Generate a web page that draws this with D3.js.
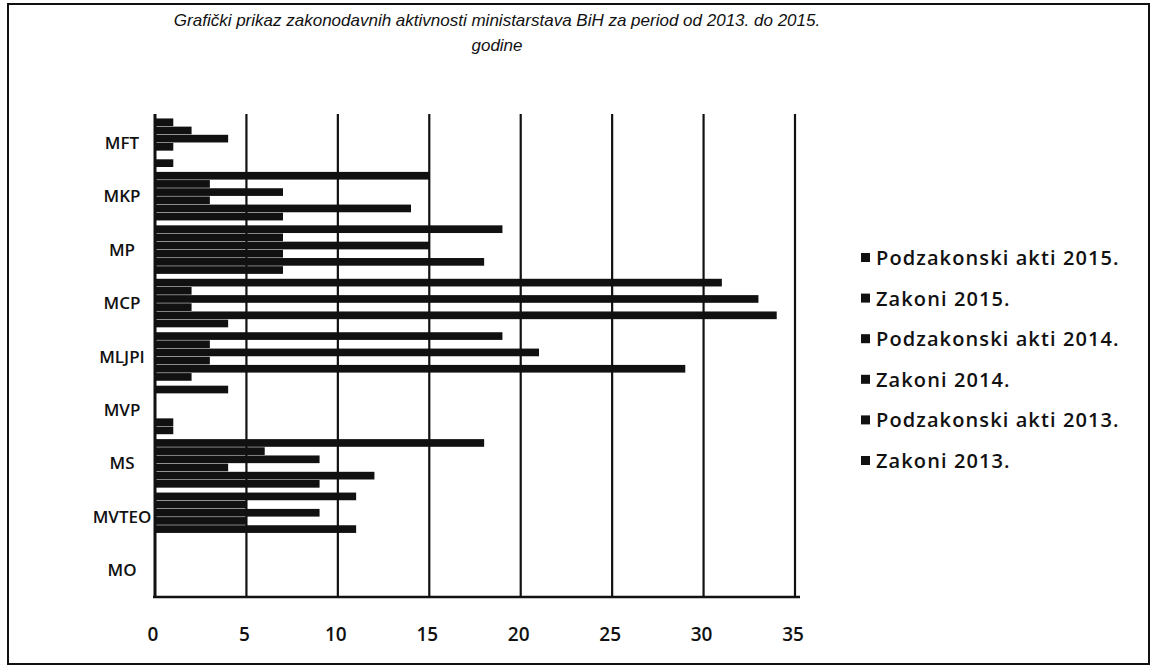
<!DOCTYPE html>
<html>
  <head>
    <title>Zakonodavne aktivnosti ministarstava BiH</title>
    <script src="https://unpkg.com/d3@7/dist/d3.min.js"></script>
    <style>
    body { margin: 0; background: #fff; }
    .title text { font-family: "Liberation Sans", Arial, sans-serif; font-style: italic; font-size: 17px; fill: #111; }
    .cat text, .xaxis text, .legend text { font-family: "Open Sans", sans-serif; font-weight: 600; fill: #111; }
    .grid line { stroke: #111; stroke-width: 2.2px; }
    </style>
  </head>
  <body>
    <div id="chart"></div>
    <script type="text/javascript">
    // categories (top to bottom) and series values
    var categories = ["MFT", "MKP", "MP", "MCP", "MLJPI", "MVP", "MS", "MVTEO", "MO"];
    var seriesNames = ["Podzakonski akti 2015.", "Zakoni 2015.", "Podzakonski akti 2014.",
                       "Zakoni 2014.", "Podzakonski akti 2013.", "Zakoni 2013."];
    var podzakonski2015 = [1, 15, 19, 31, 19, 4, 18, 11, 0];
    var zakoni2015      = [2, 3, 7, 2, 3, 0, 6, 5, 0];
    var podzakonski2014 = [4, 7, 15, 33, 21, 0, 9, 9, 0];
    var zakoni2014      = [1, 3, 7, 2, 3, 0, 4, 5, 0];
    var podzakonski2013 = [0, 14, 18, 34, 29, 1, 12, 11, 0];
    var zakoni2013      = [1, 7, 7, 4, 2, 1, 9, 0, 0];
    var xTicks = [0, 5, 10, 15, 20, 25, 30, 35];

    var seriesValues = [podzakonski2015, zakoni2015, podzakonski2014, zakoni2014, podzakonski2013, zakoni2013];

    var W = 1155, H = 672;
    var svg = d3.select("#chart").append("svg")
      .attr("width", W)
      .attr("height", H);

    // outer frame
    svg.append("rect")
      .attr("x", 8).attr("y", 4)
      .attr("width", 1141).attr("height", 660)
      .attr("fill", "none")
      .attr("stroke", "#111")
      .attr("stroke-width", 2);

    var title = svg.append("g").attr("class", "title");
    title.append("text").attr("x", 497).attr("y", 26).attr("text-anchor", "middle")
      .text("Grafički prikaz zakonodavnih aktivnosti ministarstava BiH za period od 2013. do 2015.");
    title.append("text").attr("x", 497).attr("y", 51).attr("text-anchor", "middle")
      .text("godine");

    var x = d3.scaleLinear().domain([0, 35]).range([155, 795]);
    var y0 = d3.scaleBand().domain(categories).range([116, 597]).padding(0);
    var y1 = d3.scaleBand().domain(seriesNames).range([0, y0.bandwidth()])
      .paddingInner(0.06).paddingOuter(0.3);

    // vertical gridlines
    svg.append("g").attr("class", "grid")
      .selectAll("line")
      .data(xTicks.slice(1))
      .enter().append("line")
      .attr("x1", d => x(d)).attr("x2", d => x(d))
      .attr("y1", 114).attr("y2", 597);

    // bars
    var rows = [];
    categories.forEach(function(c, i) {
      seriesNames.forEach(function(s, j) {
        rows.push({cat: c, ser: s, val: seriesValues[j][i]});
      });
    });

    svg.append("g").selectAll("rect")
      .data(rows)
      .enter().append("rect")
      .attr("x", x(0))
      .attr("y", d => y0(d.cat) + y1(d.ser))
      .attr("width", d => x(d.val) - x(0))
      .attr("height", y1.bandwidth())
      .attr("fill", "#111");

    // axes lines
    svg.append("line").attr("x1", x(0)).attr("x2", x(0)).attr("y1", 114).attr("y2", 598)
      .attr("stroke", "#111").attr("stroke-width", 3);
    svg.append("line").attr("x1", x(0) - 2).attr("x2", 800).attr("y1", 597).attr("y2", 597)
      .attr("stroke", "#111").attr("stroke-width", 2.5);

    // category labels
    svg.append("g").attr("class", "cat")
      .selectAll("text")
      .data(categories)
      .enter().append("text")
      .attr("x", 122)
      .attr("y", d => y0(d) + y0.bandwidth() / 2 + 6)
      .attr("text-anchor", "middle")
      .attr("font-size", 17)
      .text(d => d);

    // x tick labels
    svg.append("g").attr("class", "xaxis")
      .selectAll("text")
      .data(xTicks)
      .enter().append("text")
      .attr("x", d => x(d) - 2)
      .attr("y", 641)
      .attr("text-anchor", "middle")
      .attr("font-size", 19)
      .attr("font-weight", 700)
      .text(d => d);

    // legend
    var legend = svg.append("g").attr("class", "legend")
      .selectAll("g")
      .data(seriesNames)
      .enter().append("g")
      .attr("transform", (d, i) => "translate(861," + (258 + i * 40.6) + ")");
    legend.append("rect").attr("x", 0).attr("y", -5).attr("width", 9).attr("height", 9).attr("fill", "#111");
    legend.append("text").attr("x", 15).attr("y", 7).attr("font-size", 20)
      .attr("letter-spacing", 1.1).text(d => d);
    </script>
  </body>
</html>
